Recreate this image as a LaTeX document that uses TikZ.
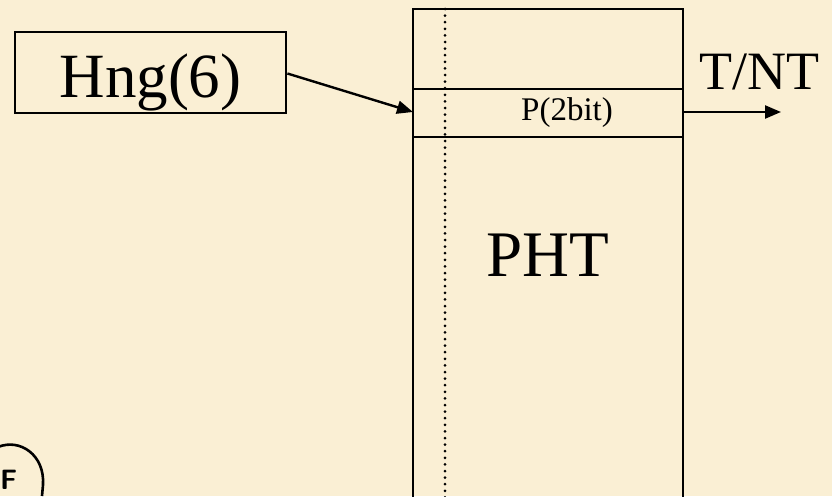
\documentclass[tikz,border=0pt]{standalone}
\usepackage{fontspec}
\setmainfont{Liberation Serif}
\usetikzlibrary{arrows.meta}
\definecolor{bg}{HTML}{FAEFD4}
\begin{document}
\begin{tikzpicture}[x=1pt,y=-1pt,
  box/.style={draw=black,line width=2.8pt,inner sep=0pt},
  conn/.style={line width=2.4pt,-{Triangle[length=16pt,width=13pt]}},
  txt/.style={inner sep=0pt,anchor=base}]
\fill[bg] (0,0) rectangle (832,496);
\useasboundingbox (0,0) rectangle (832,496);
% Hng box
\node[box,minimum width=271pt,minimum height=81pt] (hng) at (150.5,72.5) {};
\node[txt] (hngt) at (150.5,97) {\fontsize{63}{63}\selectfont Hng(6)};
% PHT table
\node[box,minimum width=270pt,minimum height=490pt] (pht) at (548,254) {};
\coordinate (l1a) at (413,89); \coordinate (l1b) at (683,89);
\coordinate (l2a) at (413,137); \coordinate (l2b) at (683,137);
\draw[line width=2pt] (l1a) -- (l1b);
\draw[line width=2pt] (l2a) -- (l2b);
\coordinate (dt) at (445,9); \coordinate (db) at (445,499);
\draw[line width=3pt,dash pattern=on 0pt off 6.6pt,line cap=round] (dt) -- (db);
\node[txt] (p2) at (567,120) {\fontsize{33}{33}\selectfont P(2bit)};
\node[txt] (phtt) at (548,276) {\fontsize{65}{65}\selectfont PHT};
\node[txt] (tnt) at (759,89) {\fontsize{54}{54}\selectfont T/NT};
% arrows
\coordinate (in) at (413,112);
\coordinate (outs) at (684,112);
\coordinate (oute) at (781,112);
\draw[conn] (hng.east) ++(0,1) -- (in);
\draw[conn] (outs) -- (oute);
% logo fragment
\draw[line width=2.6pt] (-2,447) .. controls (20,438) and (45,455) .. (43,485) -- (42,496);
\node[inner sep=0pt,anchor=west,font=\sffamily\bfseries\fontsize{28}{28}\selectfont] (f) at (0,480) {F};
\end{tikzpicture}
\end{document}
